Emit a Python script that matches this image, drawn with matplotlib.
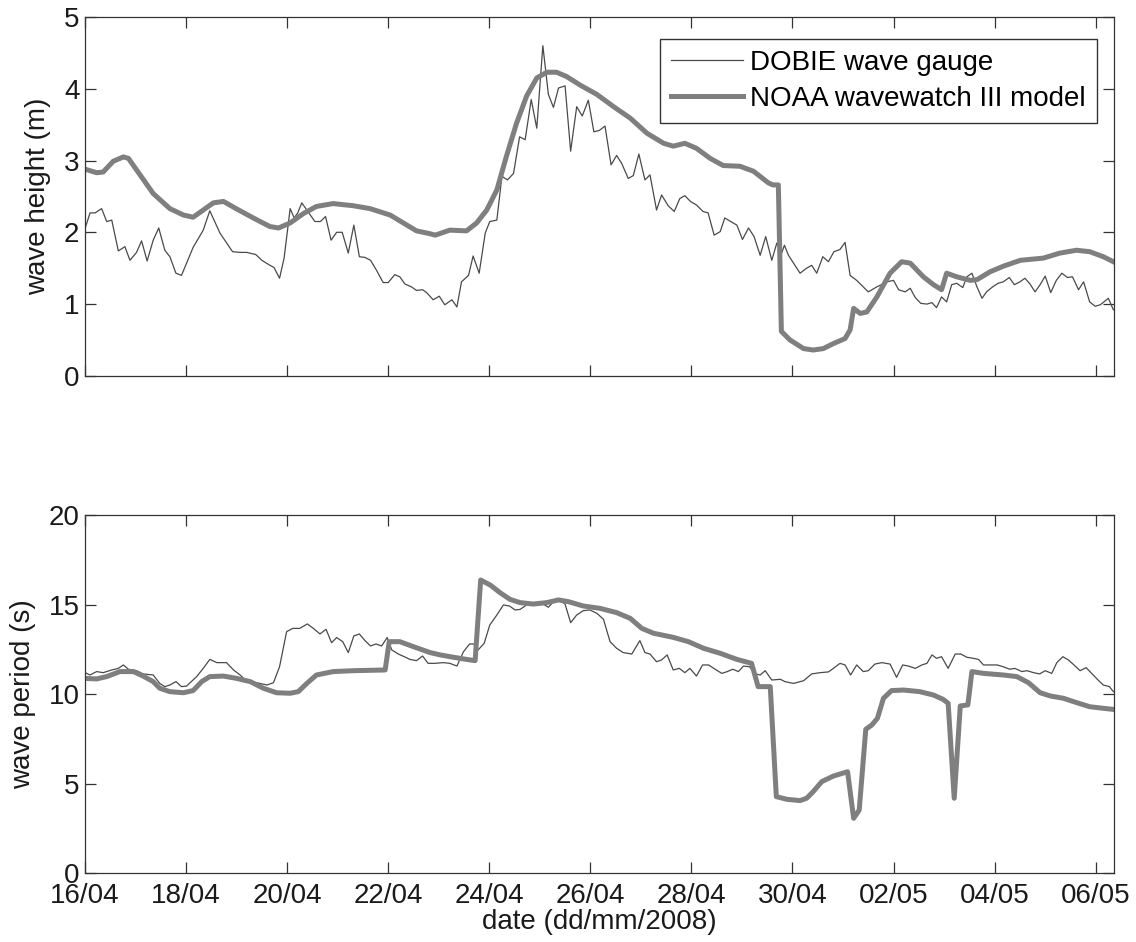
"""Wave height and period: DOBIE gauge vs NOAA wavewatch III, 16/04 - 06/05 2008."""
import numpy as np
import matplotlib
matplotlib.use("Agg")
import matplotlib.pyplot as plt
import matplotlib.dates as mdates

plt.rcParams["font.family"] = ["Liberation Sans", "DejaVu Sans"]

START = np.datetime64("2008-04-16T00:00")

# --- wave height (m), days since 16/04 00:00 ---
hs_gauge_day = [0.00, 0.10, 0.20, 0.33, 0.43, 0.53, 0.66, 0.79, 0.89, 1.02, 1.12, 1.23, 1.35, 1.46,
                1.58, 1.68, 1.80, 1.91, 2.14, 2.34, 2.47, 2.67, 2.92, 3.07, 3.20, 3.38, 3.50, 3.66,
                3.74, 3.85, 3.94, 4.06, 4.14, 4.21, 4.29, 4.39, 4.55, 4.66, 4.76, 4.87, 4.98, 5.09,
                5.21, 5.32, 5.43, 5.54, 5.65, 5.77, 5.90, 6.00, 6.13, 6.23, 6.33, 6.46, 6.56, 6.68,
                6.76, 6.89, 7.01, 7.12, 7.26, 7.36, 7.45, 7.59, 7.68, 7.80, 7.92, 8.01, 8.15, 8.25,
                8.36, 8.48, 8.60, 8.71, 8.83, 8.94, 9.06, 9.17, 9.27, 9.37, 9.50, 9.61, 9.73, 9.84,
                9.96, 10.07, 10.18, 10.29, 10.41, 10.52, 10.62, 10.75, 10.85, 10.96, 11.08, 11.18,
                11.31, 11.41, 11.54, 11.66, 11.77, 11.87, 11.98, 12.10, 12.23, 12.33, 12.45, 12.57,
                12.66, 12.80, 12.90, 13.01, 13.13, 13.24, 13.36, 13.47, 13.59, 13.69, 13.78, 13.84,
                13.92, 14.15, 14.28, 14.38, 14.48, 14.60, 14.71, 14.82, 14.94, 15.04, 15.14, 15.27,
                15.50, 15.67, 15.87, 16.00, 16.10, 16.23, 16.33, 16.43, 16.54, 16.66, 16.76, 16.85,
                16.95, 17.05, 17.15, 17.25, 17.37, 17.45, 17.55, 17.65, 17.75, 17.84, 17.96, 18.07,
                18.17, 18.29, 18.39, 18.50, 18.60, 18.70, 18.80, 18.90, 19.00, 19.11, 19.22, 19.33,
                19.44, 19.54, 19.66, 19.76, 19.88, 19.99, 20.09, 20.25, 20.35]
hs_gauge = [2.05, 2.27, 2.27, 2.33, 2.15, 2.17, 1.74, 1.80, 1.61, 1.72, 1.88, 1.60, 1.89, 2.06,
            1.75, 1.66, 1.43, 1.40, 1.79, 2.03, 2.30, 1.99, 1.73, 1.72, 1.72, 1.69, 1.61, 1.54,
            1.51, 1.36, 1.64, 2.33, 2.20, 2.27, 2.41, 2.31, 2.15, 2.15, 2.22, 1.89, 2.00, 2.00,
            1.71, 2.10, 1.66, 1.65, 1.61, 1.47, 1.30, 1.30, 1.41, 1.38, 1.28, 1.24, 1.19, 1.20,
            1.16, 1.06, 1.11, 0.99, 1.06, 0.96, 1.31, 1.40, 1.67, 1.43, 1.99, 2.15, 2.17, 2.78,
            2.73, 2.82, 3.33, 3.29, 3.85, 3.45, 4.60, 3.92, 3.74, 4.01, 4.04, 3.13, 3.75, 3.62,
            3.84, 3.40, 3.42, 3.48, 2.94, 3.07, 2.96, 2.75, 2.79, 3.09, 2.73, 2.80,
            2.31, 2.52, 2.37, 2.29, 2.47, 2.51, 2.43, 2.38, 2.29, 2.27, 1.96, 2.01,
            2.20, 2.14, 2.10, 1.90, 2.06, 1.94, 1.68, 1.94, 1.61, 1.85, 1.70, 1.82,
            1.68, 1.43, 1.50, 1.54, 1.43, 1.66, 1.59, 1.73, 1.76, 1.86, 1.40, 1.33,
            1.17, 1.24, 1.31, 1.33, 1.20, 1.17, 1.22, 1.09, 1.01, 1.00, 1.02, 0.95,
            1.10, 1.03, 1.27, 1.29, 1.23, 1.38, 1.43, 1.24, 1.08, 1.17, 1.24, 1.29,
            1.31, 1.37, 1.27, 1.31, 1.36, 1.28, 1.17, 1.27, 1.39, 1.16, 1.33, 1.43,
            1.37, 1.38, 1.20, 1.31, 1.03, 0.97, 0.99, 1.08, 0.92]

hs_model_day = [0.00, 0.23, 0.36, 0.56, 0.76, 0.86, 1.02, 1.35, 1.68, 1.95, 2.14, 2.34, 2.54, 2.74,
                2.99, 3.33, 3.66, 3.83, 4.06, 4.32, 4.58, 4.91, 5.31, 5.64, 6.04, 6.30, 6.56, 6.83,
                6.93, 7.22, 7.55, 7.75, 7.95, 8.15, 8.34, 8.54, 8.74, 8.94, 9.14, 9.33, 9.53, 9.80,
                10.13, 10.46, 10.79, 11.12, 11.45, 11.64, 11.87, 12.10, 12.37, 12.63, 12.96, 13.23,
                13.52, 13.61, 13.72, 13.78, 13.95, 14.22, 14.41, 14.61, 14.81, 15.04, 15.14, 15.21,
                15.34, 15.47, 15.67, 15.93, 16.16, 16.33, 16.59, 16.79, 16.95, 17.05, 17.25, 17.52,
                17.65, 17.91, 18.18, 18.51, 18.96, 19.29, 19.62, 19.88, 20.15, 20.35]
hs_model = [2.88, 2.83, 2.84, 2.99, 3.05, 3.03, 2.87, 2.54, 2.33, 2.24, 2.21, 2.31, 2.41, 2.43,
            2.33, 2.20, 2.08, 2.06, 2.13, 2.26, 2.36, 2.40, 2.37, 2.33, 2.24, 2.13, 2.02, 1.98,
            1.96, 2.03, 2.02, 2.13, 2.31, 2.59, 3.06, 3.52, 3.90, 4.15, 4.23, 4.23, 4.17, 4.05,
            3.92, 3.75, 3.59, 3.38, 3.24, 3.20, 3.24, 3.17, 3.03, 2.93, 2.92, 2.85,
            2.69, 2.66, 2.66, 0.62, 0.50, 0.38, 0.36, 0.38, 0.45, 0.52, 0.64, 0.94,
            0.87, 0.89, 1.10, 1.43, 1.59, 1.57, 1.38, 1.27, 1.20, 1.43, 1.38, 1.33,
            1.34, 1.45, 1.53, 1.61, 1.64, 1.71, 1.75, 1.73, 1.66, 1.59]

# --- wave period (s) ---
tp_gauge_day = [0.00, 0.10, 0.23, 0.36, 0.53, 0.66, 0.76, 0.86, 1.02, 1.15, 1.35, 1.48, 1.58, 1.68,
                1.80, 1.91, 2.01, 2.21, 2.34, 2.47, 2.61, 2.80, 2.94, 3.07, 3.20, 3.40, 3.60, 3.73,
                3.85, 3.99, 4.11, 4.25, 4.40, 4.52, 4.65, 4.77, 4.88, 4.98, 5.10, 5.21, 5.32, 5.43,
                5.54, 5.65, 5.76, 5.87, 5.98, 6.07, 6.20, 6.32, 6.43, 6.56, 6.68, 6.79, 6.92, 7.09,
                7.22, 7.36, 7.49, 7.61, 7.70, 7.78, 7.90, 8.01, 8.15, 8.28, 8.40, 8.51, 8.61, 8.74,
                8.91, 9.04, 9.17, 9.27, 9.40, 9.50, 9.61, 9.73, 9.86, 9.99, 10.13, 10.26, 10.39,
                10.52, 10.65, 10.82, 10.98, 11.08, 11.18, 11.31, 11.41, 11.52, 11.64, 11.76, 11.87,
                11.97, 12.10, 12.22, 12.34, 12.47, 12.60, 12.71, 12.82, 12.93, 13.03, 13.15, 13.26,
                13.36, 13.46, 13.59, 13.76, 13.85, 14.02, 14.22, 14.38, 14.55, 14.71, 14.81, 14.94,
                15.04, 15.15, 15.27, 15.40, 15.50, 15.63, 15.77, 15.93, 16.06, 16.18, 16.29, 16.43,
                16.56, 16.66, 16.76, 16.85, 16.95, 17.08, 17.22, 17.33, 17.45, 17.58, 17.68, 17.78,
                17.92, 18.05, 18.17, 18.30, 18.40, 18.54, 18.64, 18.77, 18.89, 19.00, 19.13, 19.23,
                19.35, 19.46, 19.57, 19.69, 19.81, 19.93, 20.06, 20.15, 20.27, 20.35]
tp_gauge = [11.20, 11.07, 11.26, 11.20, 11.35, 11.44, 11.63, 11.39, 11.31, 11.13, 11.07, 10.60, 10.42,
            10.51, 10.70, 10.42, 10.45, 10.98, 11.44, 11.94, 11.76, 11.76, 11.35, 11.07, 10.70, 10.64,
            10.51, 10.64, 11.53, 13.49, 13.67, 13.67, 13.92, 13.67, 13.36, 13.62, 12.87, 13.16, 12.93,
            12.32, 13.25, 13.36, 12.99, 12.69, 12.80, 12.69, 13.16, 12.47, 12.24, 12.09, 11.94, 11.87,
            12.13, 11.72, 11.72, 11.76, 11.72, 11.57, 12.37, 12.80, 12.80, 12.47, 12.84, 13.86, 14.42,
            14.98, 14.92, 14.70, 14.73, 14.98, 15.03, 15.07, 14.85, 15.16, 15.22, 15.03, 13.99, 14.42,
            14.66, 14.70, 14.51, 14.18, 12.93, 12.56, 12.32, 12.24, 12.99, 12.32, 12.24, 11.81, 11.91,
            12.19, 11.35, 11.44, 11.20, 11.44, 11.01, 11.63, 11.63, 11.39, 11.16, 11.26, 11.39, 11.26,
            11.57, 11.53, 11.13, 11.07, 11.31, 10.79, 10.83, 10.70, 10.60, 10.75, 11.13, 11.20, 11.24,
            11.44, 11.72, 11.63, 11.07, 11.63, 11.26, 11.31, 11.68, 11.76, 11.68, 10.94, 11.63, 11.57,
            11.44, 11.63, 11.72, 12.19, 12.00, 12.09, 11.44, 12.24, 12.24, 12.06, 12.00, 11.94, 11.63,
            11.63, 11.63, 11.53, 11.39, 11.44, 11.26, 11.31, 11.20, 11.13, 11.31, 11.16, 11.76, 12.09,
            11.91, 11.63, 11.31, 11.48, 11.13, 10.75, 10.51, 10.42, 10.14]

tp_model_day = [0.00, 0.23, 0.43, 0.69, 0.96, 1.15, 1.35, 1.48, 1.68, 1.95, 2.14, 2.31, 2.47, 2.74,
                3.00, 3.27, 3.53, 3.79, 4.06, 4.22, 4.39, 4.58, 4.91, 5.31, 5.94, 6.02, 6.23, 6.50,
                6.83, 7.03, 7.29, 7.55, 7.72, 7.83, 8.02, 8.21, 8.41, 8.61, 8.87, 9.14, 9.37, 9.57,
                9.86, 10.19, 10.52, 10.79, 11.02, 11.25, 11.64, 11.94, 12.24, 12.57, 12.90, 13.19,
                13.32, 13.56, 13.68, 13.89, 14.15, 14.28, 14.41, 14.58, 14.81, 15.09, 15.21, 15.32,
                15.45, 15.57, 15.68, 15.80, 15.96, 16.20, 16.52, 16.79, 16.98, 17.08, 17.20, 17.32,
                17.47, 17.55, 17.78, 18.17, 18.44, 18.67, 18.90, 19.10, 19.36, 19.62, 19.88, 20.15,
                20.35]
tp_model = [10.88, 10.85, 10.98, 11.26, 11.26, 11.01, 10.70, 10.33, 10.14, 10.08, 10.20, 10.70, 10.98,
            11.01, 10.88, 10.70, 10.33, 10.08, 10.05, 10.14, 10.60, 11.07, 11.26, 11.31, 11.35, 12.93,
            12.93, 12.65, 12.32, 12.19, 12.06, 11.94, 11.87, 16.37, 16.09, 15.67, 15.29, 15.11, 15.03,
            15.11, 15.26, 15.16, 14.92, 14.79, 14.55, 14.23, 13.67, 13.40, 13.17, 12.93, 12.56, 12.28,
            11.94, 11.72, 10.42, 10.42, 4.28, 4.13, 4.06, 4.19, 4.56, 5.12, 5.43, 5.67, 3.07, 3.53,
            8.04, 8.28, 8.65, 9.77, 10.20, 10.23, 10.14, 9.95, 9.71, 9.49, 4.19, 9.34, 9.40, 11.26,
            11.16, 11.07, 10.98, 10.64, 10.08, 9.90, 9.77, 9.53, 9.30, 9.21, 9.15]

labels = ["DOBIE wave gauge", "NOAA wavewatch III model"]


def to_time(days):
    return START + (np.asarray(days) * 86400).astype("timedelta64[s]")


fig = plt.figure(figsize=(11.36, 9.42), dpi=100)
ax1 = fig.add_axes([0.0748, 0.601, 0.9062, 0.381])
ax2 = fig.add_axes([0.0748, 0.0729, 0.9062, 0.3804])

for ax, gd, gv, md, mv in [(ax1, hs_gauge_day, hs_gauge, hs_model_day, hs_model),
                           (ax2, tp_gauge_day, tp_gauge, tp_model_day, tp_model)]:
    ax.plot(to_time(gd), gv, color="#4a4a4a", lw=0.9, label=labels[0])
    ax.plot(to_time(md), mv, color="#7f7f7f", lw=3.6, label=labels[1])
    ax.set_xlim(START, START + np.timedelta64(int(20.37 * 86400), "s"))
    ax.set_xticks(to_time(np.arange(0, 21, 2)))
    ax.xaxis.set_major_formatter(mdates.DateFormatter("%d/%m"))
    ax.tick_params(direction="in", length=8, width=0.9, top=True, right=True,
                   labelsize=20, color="#333333", labelcolor="#1a1a1a")
    ax.tick_params(axis="x", pad=7)
    ax.tick_params(axis="y", pad=4)
    for s in ax.spines.values():
        s.set_color("#333333")
        s.set_linewidth(0.9)

ax1.set_ylim(0, 5)
ax1.set_yticks([0, 1, 2, 3, 4, 5])
ax1.set_xticklabels([])
ax1.set_ylabel("wave height (m)", fontsize=20, labelpad=9, color="#1a1a1a")
ax1.legend(loc="upper right", bbox_to_anchor=(0.983, 0.939), borderaxespad=0,
           fontsize=20, fancybox=False, edgecolor="#333333", framealpha=1,
           handlelength=2.6, handletextpad=0.25, labelspacing=0.35, borderpad=0.4)

ax2.set_ylim(0, 20)
ax2.set_yticks([0, 5, 10, 15, 20])
ax2.set_ylabel("wave period (s)", fontsize=20, labelpad=9, color="#1a1a1a")
ax2.set_xlabel("date (dd/mm/2008)", fontsize=20, labelpad=0, color="#1a1a1a")

fig.savefig("out.png", dpi=100)
